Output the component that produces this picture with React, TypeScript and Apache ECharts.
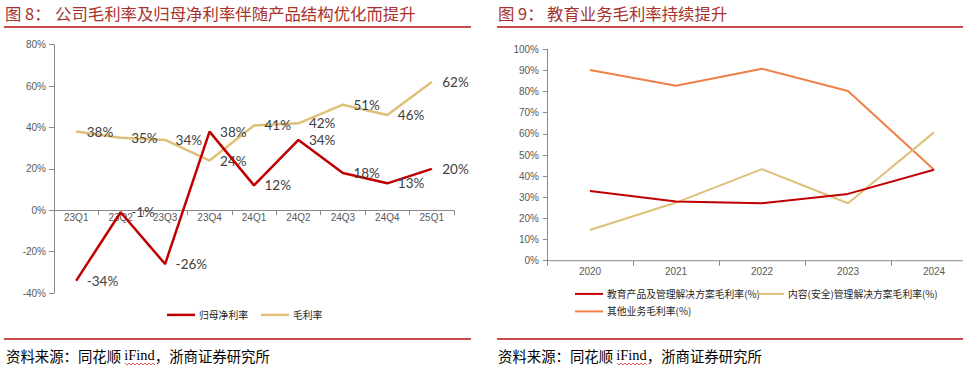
import React, { useEffect, useRef } from 'react';
import * as echarts from 'echarts';

// ---- Figure 8 data ----
const quarters = ['23Q1', '23Q2', '23Q3', '23Q4', '24Q1', '24Q2', '24Q3', '24Q4', '25Q1'];
const netMargin = [-34, -1, -26, 38, 12, 34, 18, 13, 20];
const grossMargin = [38, 35, 34, 24, 41, 42, 51, 46, 62];
const netName = '归母净利率';
const grossName = '毛利率';

// ---- Figure 9 data ----
const years = ['2020', '2021', '2022', '2023', '2024'];
const eduMargin = [33.0, 28.0, 27.2, 31.6, 43.0];
const contentMargin = [14.5, 27.5, 43.3, 27.2, 60.7];
const otherMargin = [90.2, 82.8, 90.8, 80.3, 43.0];
const eduName = '教育产品及管理解决方案毛利率(%)';
const contentName = '内容(安全)管理解决方案毛利率(%)';
const otherName = '其他业务毛利率(%)';

const title8Num = '图 8：';
const title8 = '公司毛利率及归母净利率伴随产品结构优化而提升';
const title9Num = '图 9：';
const title9 = '教育业务毛利率持续提升';

const RED = '#C00000';
const TAN = '#DEC079';
const ORANGE = '#EE8048';
const AXIS = '#8A8A8A';
const LABEL = '#595959';
const TITLE = '#A8322D';
const RULE = '#B50F0F';
const CJK = '"Noto Sans CJK SC", sans-serif';
const LATIN = '"Liberation Sans", Arial, sans-serif';

// decorative spell-check squiggle under "iFind"
function squiggle(x0: number, x1: number, y: number) {
  const pts: number[][] = [];
  let up = true;
  for (let x = x0; x <= x1; x += 2) {
    pts.push([x, up ? y : y + 2]);
    up = !up;
  }
  return {
    type: 'polyline',
    shape: { points: pts },
    style: { stroke: '#E03030', lineWidth: 0.8, fill: null },
  };
}

export default function App() {
  const ref = useRef<HTMLDivElement>(null);

  useEffect(() => {
    document.body.style.margin = '0';
    if (!ref.current) return;
    const chart = echarts.init(ref.current, undefined, { renderer: 'svg' });

    const axisLabel = { color: LABEL, fontSize: 10, fontFamily: LATIN };
    const sourceText = {
      text: '{a|资料来源：同花顺 }{b|iFind}{a|，浙商证券研究所}',
      rich: {
        a: { fontSize: 14.4, fontFamily: CJK, color: '#262626' },
        b: { fontSize: 14.4, fontFamily: '"Liberation Serif", serif', color: '#262626' },
      },
      verticalAlign: 'middle',
    };
    const titleStyle = (text: string) => ({
      text,
      font: `16.4px ${CJK}`,
      fill: TITLE,
      verticalAlign: 'middle',
    });
    const legendText = { fontSize: 9.8, fontFamily: CJK, color: '#262626', padding: [0, 0, 0, -1] };
    const legendItem = (name: string, left: number, top: number, h: number) => ({
      data: [name],
      left,
      top,
      padding: 0,
      icon: 'rect',
      itemWidth: 28,
      itemHeight: h,
      textStyle: legendText,
    });

    chart.setOption({
      animation: false,
      backgroundColor: '#ffffff',
      grid: [
        { left: 54, top: 44.7, width: 400, height: 248.3 },
        { left: 547, top: 49.3, width: 437, height: 211.4 },
      ],
      xAxis: [
        {
          type: 'category',
          gridIndex: 0,
          data: quarters,
          boundaryGap: true,
          position: 'bottom',
          // move the whole axis (line, ticks and labels) up to the 0% line
          offset: -82.8,
          axisLine: { onZero: false, lineStyle: { color: AXIS, width: 1 } },
          axisTick: { show: true, length: 5, lineStyle: { color: AXIS } },
          axisLabel: { ...axisLabel, margin: 2 },
          splitLine: { show: false },
        },
        {
          type: 'category',
          gridIndex: 1,
          data: years,
          boundaryGap: true,
          axisLine: { show: false },
          axisTick: { show: true, length: 5, lineStyle: { color: AXIS } },
          axisLabel: { ...axisLabel, margin: 6 },
          splitLine: { show: false },
        },
      ],
      yAxis: [
        {
          type: 'value',
          gridIndex: 0,
          min: -40,
          max: 80,
          interval: 20,
          axisLine: { show: true, lineStyle: { color: AXIS } },
          axisTick: { show: true, length: 5, lineStyle: { color: AXIS } },
          axisLabel: { ...axisLabel, margin: 8, formatter: '{value}%' },
          splitLine: { show: false },
        },
        {
          type: 'value',
          gridIndex: 1,
          min: 0,
          max: 100,
          interval: 10,
          axisLine: { show: true, lineStyle: { color: AXIS } },
          axisTick: { show: true, length: 4, lineStyle: { color: AXIS } },
          axisLabel: { ...axisLabel, margin: 8, formatter: '{value}%' },
          splitLine: { show: false },
        },
      ],
      legend: [
        legendItem(netName, 167, 310, 2.5),
        legendItem(grossName, 261, 310, 2.5),
        legendItem(eduName, 575, 289, 2),
        legendItem(contentName, 756, 289, 2),
        legendItem(otherName, 575, 306.5, 2),
      ],
      series: [
        {
          name: netName,
          type: 'line',
          xAxisIndex: 0,
          yAxisIndex: 0,
          data: netMargin,
          symbol: 'circle',
          symbolSize: 1,
          lineStyle: { color: RED, width: 2.5 },
          itemStyle: { color: RED },
          label: {
            show: true,
            position: 'right',
            distance: 10,
            formatter: '{c}%',
            color: '#404040',
            fontSize: 13.5,
            fontFamily: 'Lato, sans-serif',
          },
          z: 3,
        },
        {
          name: grossName,
          type: 'line',
          xAxisIndex: 0,
          yAxisIndex: 0,
          data: grossMargin,
          symbol: 'circle',
          symbolSize: 1,
          lineStyle: { color: TAN, width: 2.5 },
          itemStyle: { color: TAN },
          label: {
            show: true,
            position: 'right',
            distance: 10,
            formatter: '{c}%',
            color: '#404040',
            fontSize: 13.5,
            fontFamily: 'Lato, sans-serif',
          },
          z: 2,
        },
        {
          name: eduName,
          type: 'line',
          xAxisIndex: 1,
          yAxisIndex: 1,
          data: eduMargin,
          symbol: 'none',
          lineStyle: { color: RED, width: 2 },
          itemStyle: { color: RED },
          z: 4,
        },
        {
          name: contentName,
          type: 'line',
          xAxisIndex: 1,
          yAxisIndex: 1,
          data: contentMargin,
          symbol: 'none',
          lineStyle: { color: TAN, width: 2 },
          itemStyle: { color: TAN },
          z: 3,
        },
        {
          name: otherName,
          type: 'line',
          xAxisIndex: 1,
          yAxisIndex: 1,
          data: otherMargin,
          symbol: 'none',
          lineStyle: { color: ORANGE, width: 2 },
          itemStyle: { color: ORANGE },
          z: 2,
        },
      ],
      graphic: [
        { type: 'text', x: 5, y: 13, style: titleStyle(title8Num) },
        { type: 'text', x: 55, y: 13, style: titleStyle(title8) },
        { type: 'text', x: 498, y: 13, style: titleStyle(title9Num) },
        { type: 'text', x: 547, y: 13, style: titleStyle(title9) },
        { type: 'line', shape: { x1: 4, y1: 27, x2: 471, y2: 27 }, style: { stroke: RULE, lineWidth: 1.3 } },
        { type: 'line', shape: { x1: 497, y1: 27, x2: 963, y2: 27 }, style: { stroke: RULE, lineWidth: 1.3 } },
        { type: 'line', shape: { x1: 4, y1: 339, x2: 471, y2: 339 }, style: { stroke: RULE, lineWidth: 1.3 } },
        { type: 'line', shape: { x1: 497, y1: 339, x2: 963, y2: 339 }, style: { stroke: RULE, lineWidth: 1.3 } },
        // x-axis line of figure 9 (truncated like the original)
        { type: 'line', shape: { x1: 547, y1: 260.7, x2: 963, y2: 260.7 }, style: { stroke: AXIS, lineWidth: 1 } },
        { type: 'text', x: 6, y: 355, style: sourceText },
        { type: 'text', x: 498, y: 355, style: sourceText },
        squiggle(125, 156, 363),
        squiggle(617, 648, 363),
      ],
    });

    return () => chart.dispose();
  }, []);

  return <div ref={ref} style={{ width: 977, height: 372 }} />;
}
